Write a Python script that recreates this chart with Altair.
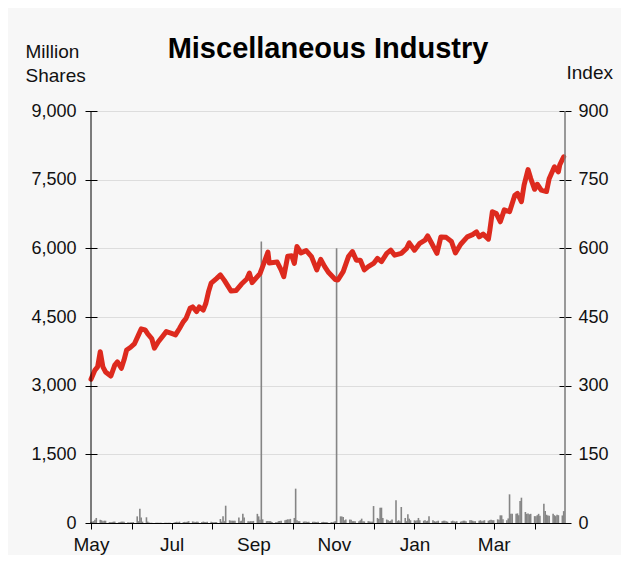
import altair as alt
import pandas as pd

TITLE = "Miscellaneous Industry"
LEFT_TITLE = ["Million", "Shares"]
RIGHT_TITLE = "Index"
X_START = "2023-05-01"
X_END = "2024-04-24"
MONTH_TICKS = ["2023-05-01", "2023-06-01", "2023-07-01", "2023-08-01", "2023-09-01",
               "2023-10-01", "2023-11-01", "2023-12-01", "2024-01-01", "2024-02-01",
               "2024-03-01", "2024-04-01"]
LABELED_MONTHS = ["May", "Jul", "Sep", "Nov", "Jan", "Mar"]
VOLUME_TICKS = [0, 1500, 3000, 4500, 6000, 7500, 9000]
INDEX_TICKS = [0, 150, 300, 450, 600, 750, 900]

INDEX_DATES = [
    "2023-05-01", "2023-05-04", "2023-05-06", "2023-05-08", "2023-05-10", "2023-05-12",
    "2023-05-16", "2023-05-19", "2023-05-21", "2023-05-24", "2023-05-26", "2023-05-28",
    "2023-05-31", "2023-06-03", "2023-06-06", "2023-06-08", "2023-06-11", "2023-06-13",
    "2023-06-16", "2023-06-18", "2023-06-21", "2023-06-24", "2023-06-27", "2023-07-01",
    "2023-07-04", "2023-07-07", "2023-07-10", "2023-07-12", "2023-07-15", "2023-07-17",
    "2023-07-20", "2023-07-22", "2023-07-25", "2023-07-27", "2023-07-29", "2023-07-31",
    "2023-08-04", "2023-08-07", "2023-08-10", "2023-08-15", "2023-08-19", "2023-08-23",
    "2023-08-27", "2023-08-29", "2023-08-31", "2023-09-03", "2023-09-06", "2023-09-08",
    "2023-09-12", "2023-09-13", "2023-09-19", "2023-09-22", "2023-09-24", "2023-09-27",
    "2023-09-30", "2023-10-02", "2023-10-04", "2023-10-07", "2023-10-11", "2023-10-15",
    "2023-10-19", "2023-10-22", "2023-10-25", "2023-10-28", "2023-11-02", "2023-11-04",
    "2023-11-08", "2023-11-12", "2023-11-15", "2023-11-18", "2023-11-21", "2023-11-24",
    "2023-11-27", "2023-12-01", "2023-12-04", "2023-12-07", "2023-12-11", "2023-12-14",
    "2023-12-17", "2023-12-22", "2023-12-26", "2023-12-28", "2024-01-01", "2024-01-05",
    "2024-01-09", "2024-01-11", "2024-01-14", "2024-01-18", "2024-01-21", "2024-01-25",
    "2024-01-29", "2024-02-01", "2024-02-05", "2024-02-10", "2024-02-14", "2024-02-17",
    "2024-02-19", "2024-02-22", "2024-02-26", "2024-02-27", "2024-02-29", "2024-03-03",
    "2024-03-06", "2024-03-09", "2024-03-13", "2024-03-17", "2024-03-19", "2024-03-22",
    "2024-03-24", "2024-03-27", "2024-03-29", "2024-04-01", "2024-04-03", "2024-04-06",
    "2024-04-10", "2024-04-12", "2024-04-16", "2024-04-19", "2024-04-20", "2024-04-23",
]
INDEX_VALUES = [
    314, 334, 341, 374, 341, 330,
    321, 345, 352, 338, 356, 378,
    384, 392, 411, 424, 422, 413,
    403, 382, 396, 407, 418, 414,
    411, 425, 440, 447, 469, 472,
    462, 472, 465, 480, 505, 524,
    534, 542, 530, 507, 508, 522,
    533, 546, 525, 535, 545, 560,
    592, 568, 570, 553, 538, 583,
    584, 567, 604, 590, 595, 582,
    553, 576, 560, 547, 532, 531,
    549, 582, 593, 574, 574, 553,
    560, 567, 578, 571, 589, 596,
    585, 589, 600, 612, 596, 611,
    618, 627, 611, 589, 625, 624,
    615, 590, 609, 625, 630, 636,
    625, 631, 620, 638, 680, 676,
    658, 684, 680, 716, 720, 702,
    738, 772, 753, 729, 740, 727,
    724, 752, 778, 767, 782, 800,
]

# daily trading volume (million shares), one value per weekday of each month
VOL_MONTHS = ["2023-05", "2023-06", "2023-07", "2023-08", "2023-09", "2023-10",
              "2023-11", "2023-12", "2024-01", "2024-02", "2024-03", "2024-04"]
VOL_MAY = [20, 30, 40, 70, 110, 70, 60, 40, 50, 50, 20, 15, 20, 30, 30, 15, 20, 30, 30, 25, 15, 10, 15]
VOL_JUN = [15, 20, 145, 40, 312, 120, 30, 125, 30, 10, 5, 5, 5, 5, 5, 5, 5, 5, 5, 5, 5, 5]
VOL_JUL = [10, 20, 25, 15, 30, 20, 25, 20, 30, 40, 35, 25, 20, 30, 25, 20, 30, 25, 20, 30, 25]
VOL_AUG = [20, 15, 20, 20, 87, 30, 145, 40, 378, 60, 50, 50, 50, 50, 120, 40, 50, 203, 120, 40, 35, 40, 40]
VOL_SEP = [45, 200, 145, 70, 6150, 80, 40, 45, 40, 40, 20, 15, 15, 40, 45, 50, 60, 70, 80, 75, 90]
VOL_OCT = [110, 750, 60, 40, 40, 30, 35, 30, 25, 30, 25, 30, 25, 20, 25, 20, 25, 20, 20, 15, 20, 15]
VOL_NOV = [30, 40, 6000, 145, 140, 130, 60, 75, 75, 70, 40, 40, 40, 40, 60, 95, 40, 35, 40, 35, 30, 30]
VOL_DEC = [370, 110, 90, 335, 335, 110, 75, 60, 40, 50, 75, 495, 40, 60, 40, 350, 110, 40, 190, 95, 60]
VOL_JAN = [60, 50, 60, 110, 60, 50, 60, 40, 50, 145, 60, 40, 30, 40, 50, 40, 50, 50, 40, 30, 40, 50, 40]
VOL_FEB = [30, 40, 30, 40, 50, 50, 40, 60, 60, 50, 40, 40, 50, 60, 40, 50, 60, 50, 60, 70, 60]
VOL_MAR = [60, 80, 70, 167, 167, 80, 60, 100, 626, 200, 200, 200, 210, 170, 480, 553, 240, 200, 210, 190, 200]
VOL_APR = [150, 145, 170, 200, 160, 422, 260, 180, 165, 160, 200, 170, 150, 180, 170, 165, 260]
VOL_LISTS = [VOL_MAY, VOL_JUN, VOL_JUL, VOL_AUG, VOL_SEP, VOL_OCT,
             VOL_NOV, VOL_DEC, VOL_JAN, VOL_FEB, VOL_MAR, VOL_APR]
LAST_DAY = "2024-04-23"

# ---- build tables ----
vol_rows = []
for month, vals in zip(VOL_MONTHS, VOL_LISTS):
    start = pd.Timestamp(month + "-01")
    end = min(start + pd.offsets.MonthEnd(0), pd.Timestamp(LAST_DAY))
    days = pd.bdate_range(start, end)
    assert len(days) == len(vals), (month, len(days), len(vals))
    for d, v in zip(days, vals):
        vol_rows.append({"date": d.strftime("%Y-%m-%d"), "volume": v})
vol_df = pd.DataFrame(vol_rows)
idx_df = pd.DataFrame({"date": INDEX_DATES, "index": INDEX_VALUES})


def dt(s):
    t = pd.Timestamp(s)
    return alt.DateTime(year=t.year, month=t.month, date=t.day, utc=True)


FONT = "Liberation Sans"
x_scale = alt.Scale(type="utc", domain=[dt(X_START), dt(X_END)], nice=False, padding=0)
label_list = "[" + ",".join("'%s'" % m for m in LABELED_MONTHS) + "]"
x_axis = alt.Axis(
    values=[dt(s) for s in MONTH_TICKS],
    labelExpr="indexof(%s, utcFormat(datum.value, '%%b')) >= 0 ? utcFormat(datum.value, '%%b') : ''" % label_list,
    grid=False, domain=True, domainColor="#000000", domainWidth=1,
    tickColor="#000000", tickSize=6, labelFontSize=19, labelColor="#111111",
    labelPadding=6, labelFont=FONT, title=None, labelFlush=False,
)
x_enc = alt.X("date:T", scale=x_scale, axis=x_axis)

left_axis = alt.Axis(
    orient="left", values=VOLUME_TICKS, format=",d", domain=False,
    tickSize=12, offset=-6, tickColor="#000000", tickWidth=1,
    labelFontSize=18, labelColor="#111111", labelPadding=9, labelFont=FONT,
    grid=True, gridColor="#dddddd", gridWidth=1,
    title=LEFT_TITLE, titleAngle=0, titleAlign="left", titleBaseline="top",
    titleX=-72, titleY=-69, titleFontSize=19, titleFontWeight="normal",
    titleLineHeight=24, titleFont=FONT, titleColor="#111111",
)
right_axis = alt.Axis(
    orient="right", values=INDEX_TICKS, format=",d", domain=False,
    tickSize=12, offset=-6, tickColor="#000000", tickWidth=1,
    labelFontSize=18, labelColor="#111111", labelPadding=7, labelFont=FONT,
    grid=False,
    title=RIGHT_TITLE, titleAngle=0, titleAlign="left", titleBaseline="top",
    titleX=7, titleY=-48, titleFontSize=19, titleFontWeight="normal",
    titleFont=FONT, titleColor="#111111",
)

bars = alt.Chart(vol_df).mark_bar(color="#858585", size=1.6).encode(
    x=x_enc,
    y=alt.Y("volume:Q", scale=alt.Scale(domain=[0, 9000], nice=False), axis=left_axis),
)
line = alt.Chart(idx_df).mark_line(
    color="#dd2a1e", strokeWidth=5, strokeJoin="round", strokeCap="round"
).encode(
    x=x_enc,
    y=alt.Y("index:Q", scale=alt.Scale(domain=[0, 900], nice=False), axis=right_axis),
)
left_edge = alt.Chart(pd.DataFrame({"date": [X_START]})).mark_rule(
    color="#000000", strokeWidth=1
).encode(x=x_enc)
right_edge = alt.Chart(pd.DataFrame({"date": [X_END]})).mark_rule(
    color="#7a7a7a", strokeWidth=1.5
).encode(x=x_enc)

chart = alt.layer(bars, line, left_edge, right_edge).resolve_scale(
    y="independent"
).properties(
    width=474, height=412,
    padding={"left": 83, "top": 103, "right": 56, "bottom": 32},
    autosize=alt.AutoSizeParams(type="none"),
    background="#f7f7f7",
    title=alt.TitleParams(
        TITLE, anchor="middle", fontSize=29, fontWeight="bold", font=FONT,
        color="#000000", dy=26,
    ),
).configure_view(stroke=None)

chart.save("out.html", embed_options={"renderer": "svg", "actions": False})
